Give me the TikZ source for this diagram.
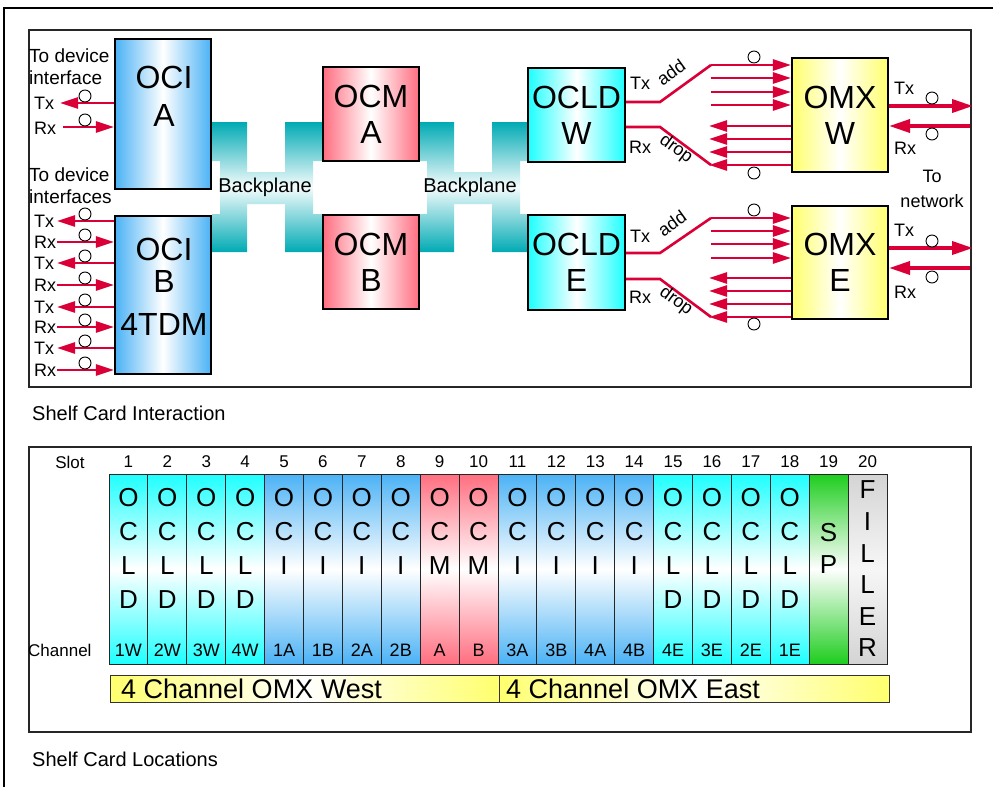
\documentclass[tikz,border=0pt]{standalone}
\usepackage{fontspec}
\setmainfont{Liberation Sans}
\usetikzlibrary{arrows.meta}
\definecolor{cyanC}{RGB}{30,255,255}
\definecolor{blueC}{RGB}{75,178,245}
\definecolor{pinkC}{RGB}{255,110,128}
\definecolor{greenC}{RGB}{30,205,30}
\definecolor{greyC}{RGB}{212,212,212}
\definecolor{yellowC}{RGB}{255,255,110}
\definecolor{tealC}{RGB}{0,170,180}
\definecolor{redC}{RGB}{218,0,55}
\begin{document}
\begin{tikzpicture}[x=1pt,y=-1pt,
  redline/.style={draw=redC, line width=2.6pt},
  redarr/.style={redline, -{Triangle[length=18pt,width=11pt]}},
  bigarr/.style={draw=redC, line width=3.6pt, -{Triangle[length=21pt,width=13pt]}},
  ring/.style={circle, draw=black, line width=0.9pt, fill=white, minimum size=12pt, inner sep=0pt},
  card/.style={draw=black, line width=2.2pt, inner sep=0pt, align=center, font=\fontsize{32}{36}\selectfont},
  cardtext/.style={inner sep=0pt, align=center, font=\fontsize{32}{38}\selectfont},
  hgrad/.style={left color=#1, right color=#1, middle color=white},
  vgrad/.style={top color=#1, bottom color=#1, middle color=white},
  lab/.style={inner sep=1pt, font=\fontsize{18}{20}\selectfont},
  note/.style={inner sep=1pt, align=left, font=\fontsize{19}{22}\selectfont},
  fanlab/.style={inner sep=0pt, font=\fontsize{18}{20}\selectfont},
  bplab/.style={inner sep=0pt, font=\fontsize{20}{22}\selectfont},
  panel/.style={draw=black!85, line width=1.2pt},
  slotbox/.style={draw=black!85, line width=0.9pt, minimum width=38.9pt, minimum height=190pt, inner sep=0pt},
  slotlet/.style={inner sep=0pt, font=\fontsize{26}{28}\selectfont},
  slotnum/.style={inner sep=0pt, font=\fontsize{17}{20}\selectfont},
  chnum/.style={inner sep=0pt, font=\fontsize{18}{20}\selectfont},
  caption/.style={inner sep=0pt, anchor=west, font=\fontsize{20}{22}\selectfont},
  bar/.style={draw=black!80, line width=1pt, hgrad=yellowC, inner sep=0pt, minimum height=27pt},
  bartext/.style={inner sep=0pt, anchor=west, font=\fontsize{27}{30}\selectfont}
]
\useasboundingbox (0,0) rectangle (993,787);
\fill[white] (0,0) rectangle (993,787);
\draw[black, line width=1.3pt] (4,787) -- (4,8) -- (993,8);
\draw[panel] (29,30) rectangle (971,387);
\draw[panel] (29,447) rectangle (971,732);

% backplanes
\shade[top color=tealC, bottom color=tealC, middle color=tealC!4]
 (212,122) -- (247,122) -- (247,172) -- (285,172) -- (285,122) -- (323,122) -- (323,161) -- (313,161) -- (313,214) -- (323,214) -- (323,252) -- (285,252) -- (285,204) -- (247,204) -- (247,252) -- (212,252) -- (212,214) -- (220,214) -- (220,161) -- (212,161) -- cycle;
\begin{scope}[shift={(207,0)}]
\shade[top color=tealC, bottom color=tealC, middle color=tealC!4]
 (212,122) -- (247,122) -- (247,172) -- (285,172) -- (285,122) -- (323,122) -- (323,161) -- (313,161) -- (313,214) -- (323,214) -- (323,252) -- (285,252) -- (285,204) -- (247,204) -- (247,252) -- (212,252) -- (212,214) -- (220,214) -- (220,161) -- (212,161) -- cycle;
\end{scope}
\node[bplab] (bp1) at (265,187) {Backplane};
\node[bplab] (bp2) at (470,187) {Backplane};

% cards
\node[card, hgrad=blueC, minimum width=96pt, minimum height=150pt] (ociA) at (163,114) {};
\node[cardtext] (ociAt) at (164,96) {OCI\\A};
\node[card, hgrad=blueC, minimum width=96pt, minimum height=158pt] (ociB) at (163,295) {};
\node[cardtext] (ociBt) at (164,287) {OCI\\[-6pt]B\\[5pt]4TDM};
\node[card, hgrad=pinkC, minimum width=96pt, minimum height=94pt] (ocmA) at (371,114) {OCM\\A};
\node[card, hgrad=pinkC, minimum width=96pt, minimum height=94pt] (ocmB) at (371,262) {OCM\\B};
\node[card, hgrad=cyanC, minimum width=97pt, minimum height=94pt] (ocldW) at (576.5,115) {OCLD\\W};
\node[card, hgrad=cyanC, minimum width=97pt, minimum height=95pt] (ocldE) at (576.5,262.5) {OCLD\\E};
\node[card, hgrad=yellowC, minimum width=96pt, minimum height=114pt] (omxW) at (840,115) {OMX\\W};
\node[card, hgrad=yellowC, minimum width=96pt, minimum height=113pt] (omxE) at (840,262.5) {OMX\\E};

% device interface side
\node[note, anchor=west] (devA) at (28,67) {To device\\interface};
\node[note, anchor=west] (devB) at (28,186) {To device\\interfaces};
\node[lab, anchor=west] (txA) at (33,103) {Tx};
\node[lab, anchor=west] (rxA) at (33,128) {Rx};
\coordinate (txAend) at (60,103);
\coordinate (rxAbeg) at (63,127);
\draw[redarr] (ociA.west |- txAend) -- (txAend);
\draw[redarr] (rxAbeg) -- (ociA.west |- rxAbeg);
\node[ring] (rA1) at (85,96) {};
\node[ring] (rA2) at (85,120) {};

\foreach \y [count=\k] in {221,263,307,348}{
  \node[lab, anchor=west] (tx\k) at (33,\y) {Tx};
  \coordinate (txe\k) at (57,\y);
  \draw[redarr] (ociB.west |- txe\k) -- (txe\k);
  \node[ring] (rt\k) at (85,\y-7) {};
}
\foreach \y [count=\k] in {242,285,327,370}{
  \node[lab, anchor=west] (rx\k) at (33,\y) {Rx};
  \coordinate (rxb\k) at (57,\y);
  \draw[redarr] (rxb\k) -- (ociB.west |- rxb\k);
  \node[ring] (rr\k) at (85,\y-7) {};
}

% OCLD W fan
\coordinate (wk1) at (660,102);
\coordinate (wk2) at (711,65);
\draw[redline] (ocldW.east |- wk1) -- (wk1) -- (wk2);
\foreach \y [count=\k] in {65,78,92,105}{
  \coordinate (wf\k) at (711,\y);
  \draw[redarr] (wf\k) -- (omxW.west |- wf\k);
}
\coordinate (wr1) at (660,127);
\coordinate (wr2) at (711,165);
\draw[redline] (ocldW.east |- wr1) -- (wr1) -- (wr2);
\foreach \y [count=\k] in {126,139,152,165}{
  \coordinate (wb\k) at (709,\y);
  \draw[redarr] (omxW.west |- wb\k) -- (wb\k);
}
\node[ring] (wc1) at (754,57) {};
\node[ring] (wc2) at (754,173) {};
\node[fanlab] (wtx) at (640,83) {Tx};
\node[fanlab, rotate=36] (wadd) at (671,72) {add};
\node[fanlab] (wrx) at (640,147) {Rx};
\node[fanlab, rotate=-36] (wdrop) at (676,149) {drop};

% OCLD E fan
\coordinate (ek1) at (660,253);
\coordinate (ek2) at (711,218);
\draw[redline] (ocldE.east |- ek1) -- (ek1) -- (ek2);
\foreach \y [count=\k] in {218,231,244,258}{
  \coordinate (ef\k) at (711,\y);
  \draw[redarr] (ef\k) -- (omxE.west |- ef\k);
}
\coordinate (er1) at (660,279);
\coordinate (er2) at (711,317);
\draw[redline] (ocldE.east |- er1) -- (er1) -- (er2);
\foreach \y [count=\k] in {278,291,304,317}{
  \coordinate (eb\k) at (709,\y);
  \draw[redarr] (omxE.west |- eb\k) -- (eb\k);
}
\node[ring] (ec1) at (754,210) {};
\node[ring] (ec2) at (754,324) {};
\node[fanlab] (etx) at (640,236) {Tx};
\node[fanlab, rotate=36] (eadd) at (672,223) {add};
\node[fanlab] (erx) at (640,297) {Rx};
\node[fanlab, rotate=-36] (edrop) at (676,301) {drop};

% network side
\coordinate (nwt) at (973,106);
\coordinate (nwr) at (970,126);
\draw[bigarr] (omxW.east |- nwt) -- (nwt);
\draw[bigarr] (nwr) -- (omxW.east |- nwr);
\coordinate (net) at (973,248);
\coordinate (ner) at (970,268);
\draw[bigarr] (omxE.east |- net) -- (net);
\draw[bigarr] (ner) -- (omxE.east |- ner);
\node[ring] (nc1) at (932,98) {};
\node[ring] (nc2) at (932,134) {};
\node[ring] (nc3) at (932,241) {};
\node[ring] (nc4) at (932,277) {};
\node[fanlab, anchor=west] (nwtx) at (894,88) {Tx};
\node[fanlab, anchor=west] (nwrx) at (894,148) {Rx};
\node[fanlab, anchor=west] (netx) at (894,230) {Tx};
\node[fanlab, anchor=west] (nerx) at (894,292) {Rx};
\node[fanlab, align=center, font=\fontsize{18}{25}\selectfont] (tonet) at (932,189) {To\\network};

\node[caption] (cap1) at (32,413) {Shelf Card Interaction};

% shelf slots
\node[slotnum] (slotlab) at (70,462) {Slot};
\node[slotnum, anchor=west] (chanlab) at (28,650) {Channel};
\foreach \i/\col/\ch/\lets in {1/cyanC/1W/{O,C,L,D}, 2/cyanC/2W/{O,C,L,D}, 3/cyanC/3W/{O,C,L,D}, 4/cyanC/4W/{O,C,L,D},
  5/blueC/1A/{O,C,I}, 6/blueC/1B/{O,C,I}, 7/blueC/2A/{O,C,I}, 8/blueC/2B/{O,C,I},
  9/pinkC/A/{O,C,M}, 10/pinkC/B/{O,C,M},
  11/blueC/3A/{O,C,I}, 12/blueC/3B/{O,C,I}, 13/blueC/4A/{O,C,I}, 14/blueC/4B/{O,C,I},
  15/cyanC/4E/{O,C,L,D}, 16/cyanC/3E/{O,C,L,D}, 17/cyanC/2E/{O,C,L,D}, 18/cyanC/1E/{O,C,L,D}}{
  \pgfmathsetmacro\xc{109+(\i-0.5)*38.9}
  \node[slotbox, vgrad=\col] (s\i) at (\xc,569) {};
  \node[slotnum] (n\i) at (\xc,462) {\i};
  \node[chnum] (c\i) at (\xc,650) {\ch};
  \foreach \l [count=\k] in \lets {
    \node[slotlet] (l\i-\k) at (\xc,498+34*\k-34) {\l};
  }
}
\pgfmathsetmacro\xs{109+18.5*38.9}
\node[slotbox, vgrad=greenC] (s19) at (\xs,569) {};
\node[slotnum] (n19) at (\xs,462) {19};
\node[slotlet] (l19-1) at (\xs,533) {S};
\node[slotlet] (l19-2) at (\xs,565) {P};
\pgfmathsetmacro\xf{109+19.5*38.9}
\node[slotbox, top color=greyC, bottom color=greyC, middle color=greyC!20] (s20) at (\xf,569) {};
\node[slotnum] (n20) at (\xf,462) {20};
\foreach \l/\yy [count=\k] in {F/490, I/522, L/554, L/585, E/617, R/648}{
  \node[slotlet] (l20-\k) at (\xf,\yy) {\l};
}

\node[bar, minimum width=389pt] (barW) at (304.5,688.5) {};
\node[bartext] (barWt) at (121,689) {4 Channel OMX West};
\node[bar, minimum width=390pt] (barE) at (694,688.5) {};
\node[bartext] (barEt) at (506,689) {4 Channel OMX East};

\node[caption] (cap2) at (32,759) {Shelf Card Locations};
\end{tikzpicture}
\end{document}
